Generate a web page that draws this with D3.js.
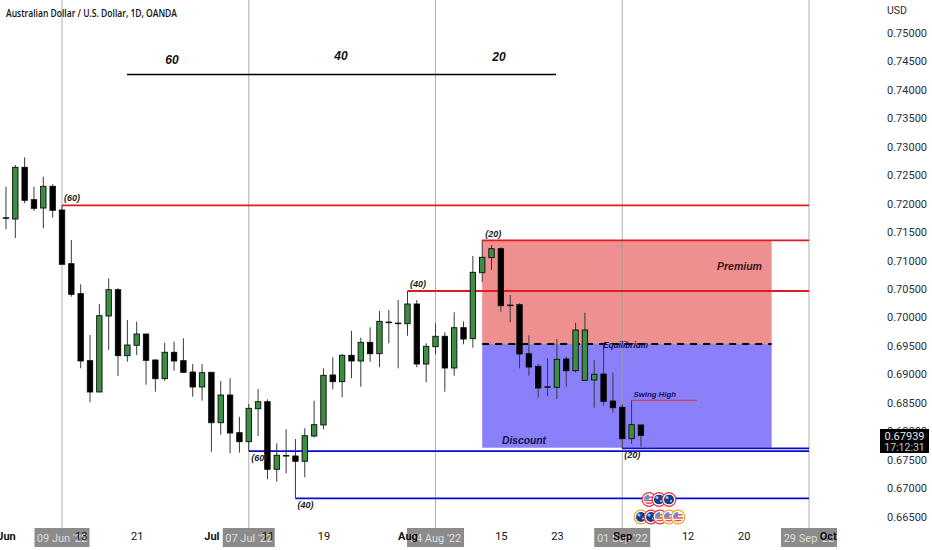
<!DOCTYPE html>
<html>
<head>
  <meta charset="utf-8">
  <title>AUD/USD 1D</title>
  <script src="https://d3js.org/d3.v7.min.js"></script>
  <style>
    html, body { margin: 0; background: #fff; overflow: hidden; }
    svg { display: block; }
    .axis text { font-family: Roboto, sans-serif; font-size: 11px; fill: #2a2e39; }
    .axis path, .axis line { display: none; }
    .note { font-family: "Liberation Sans", Arial, sans-serif; font-weight: bold; font-style: italic; }
  </style>
</head>
<body>
  <svg width="932" height="550"></svg>
  <script>
    // candles: index 0 is 09 Jun '22, one step per trading day
    const firstIndex = -6;
    const opens = [.71748,.7173,.72639,.7207,.71923,.72305,.71888,.70944,.70417,.69239,.68689,.70025,.70487,.69327,.6951,.69708,.69251,.68923,.69387,.69239,.6904,.68777,.69035,.68149,.68636,.67973,.67815,.68395,.68518,.6733,.67569,.67564,.67471,.67915,.68109,.68988,.6887,.69334,.69234,.69562,.69362,.69914,.69896,.69889,.70236,.69181,.69485,.69668,.69111,.69819,.69626,.70786,.7105,.71208,.70213,.70223,.69362,.6914,.68777,.68771,.69269,.69063,.68894,.689,.69005,.6853,.6842,.67868,.68109];
    const closes = [.71752,.72639,.72059,.71918,.72305,.71883,.70934,.70406,.69234,.68689,.7003,.70487,.69327,.69515,.69708,.69246,.68923,.69387,.69234,.69035,.68777,.69028,.68149,.68636,.67968,.67815,.68402,.68518,.6733,.67576,.67573,.67471,.6792,.68114,.68982,.6887,.69334,.69234,.69562,.69362,.69931,.69918,.699,.70236,.69181,.69492,.69668,.69111,.69819,.6962,.70793,.71057,.71208,.70206,.70217,.69357,.69128,.68759,.68781,.69264,.69063,.69779,.69779,.6900,.68525,.68413,.67868,.68114,.67927];
    const highs = [.72298,.72679,.72815,.72298,.72474,.7234,.7197,.71361,.70582,.69691,.70236,.70687,.70512,.69954,.69925,.69708,.69264,.69555,.69573,.69633,.69181,.69181,.69035,.68882,.6893,.68254,.68478,.68741,.6856,.67787,.68033,.67862,.68051,.68536,.69105,.69299,.69357,.69766,.69643,.69826,.70113,.7013,.70306,.70464,.70306,.69545,.69896,.69738,.7009,.69928,.7108,.71355,.71273,.71232,.70394,.70248,.69685,.69181,.69281,.6962,.69309,.69907,.70083,.69251,.69532,.69028,.68472,.68543,.68109];
    const lows = [.71549,.71396,.72006,.71871,.71567,.71753,.70934,.70364,.69105,.68508,.68689,.69427,.6897,.69221,.69339,.68817,.68694,.68887,.69063,.69035,.68606,.68536,.67639,.67938,.67611,.67622,.67651,.67915,.67154,.67112,.6726,.6682,.67189,.67892,.68033,.68736,.68596,.6893,.68782,.69221,.69123,.69545,.69105,.69678,.69123,.68859,.69351,.68694,.68975,.69527,.69467,.70617,.70833,.701,.69914,.69105,.68975,.68589,.68618,.68566,.68782,.69028,.68887,.68413,.68455,.68332,.67699,.67775,.67727];

    const priceTicks = [.665,.67,.675,.68,.685,.69,.695,.7,.705,.71,.715,.72,.725,.73,.735,.74,.745,.75];
    const gridIndexes = [0, 20, 40, 60, 80];
    const crosshairLabels = ["09 Jun '22", "07 Jul '22", "04 Aug '22", "01 Sep '22", "29 Sep '22"];
    const timeTickIndexes = [-6, 2, 8, 16, 22, 28, 37, 47, 53, 60, 67, 73, 82];
    const timeTickLabels = ["Jun", "13", "21", "Jul", "11", "19", "Aug", "15", "23", "Sep", "12", "20", "Oct"];
    const boldTimeTicks = ["Jun", "Jul", "Aug", "Sep", "Oct"];

    // horizontal levels: [start index, price]
    const redLevels = [[0, .7197], [45, .71355], [37, .70464]];
    const blueLevels = [[20, .67651], [25, .6682], [60, .67699]];
    const swingLabels = [
      ["(60)", 0, .7197, 2, -4], ["(20)", 45, .71355, 3, -3.6], ["(40)", 37, .70464, 2.5, -3.7],
      ["(60)", 20, .67651, 2.5, 10], ["(40)", 25, .6682, 2, 9.7], ["(20)", 60, .67699, 2, 9.7]
    ];
    const zoneStart = 45, zoneEnd = 76;
    const zoneTop = .71355, zoneMid = .69532, zoneBottom = .67709;
    const swingHigh = [61, 68, .68543];
    const countLabels = [["60", 172, 64], ["40", 341, 60], ["20", 499, 61]];
    const lastPrice = "0.67939", countdown = "17:12:31";
    const flagsTop = [["us", 649], ["au", 659], ["au", 669]];
    const flagsBottom = [["au", 641, "o"], ["au", 651, "r"], ["us", 660, "r"], ["us", 669, "o"], ["us", 678, "o"]];

    const x = d3.scaleLinear().domain([0, 80]).range([62, 809]);
    const y = d3.scaleLinear().domain([.665, .75]).range([516.5, 33]);
    const svg = d3.select("svg");

    const plotRight = 809;
    const zoneX = x(zoneStart), zoneW = x(zoneEnd) - x(zoneStart);

    // zones
    svg.append("rect").attr("x", zoneX).attr("y", y(zoneTop)).attr("width", zoneW)
      .attr("height", y(zoneMid) - y(zoneTop)).attr("fill", "#ef9090");
    svg.append("rect").attr("x", zoneX).attr("y", y(zoneMid)).attr("width", zoneW)
      .attr("height", y(zoneBottom) - y(zoneMid)).attr("fill", "#8a80fa");

    // vertical time lines
    svg.append("g").selectAll("line").data(gridIndexes).enter().append("line")
      .attr("x1", d => x(d)).attr("x2", d => x(d))
      .attr("y1", 0).attr("y2", 528)
      .attr("stroke", "#9e9e9e").attr("stroke-opacity", 0.8).attr("stroke-width", 1);

    // count line on top
    svg.append("line").attr("x1", 127).attr("x2", 556).attr("y1", 74.5).attr("y2", 74.5)
      .attr("stroke", "#000").attr("stroke-width", 1.5);
    svg.append("g").selectAll("text").data(countLabels).enter().append("text")
      .attr("class", "note").attr("x", d => d[1]).attr("y", d => d[2])
      .attr("text-anchor", "middle").attr("font-size", 12).attr("fill", "#111").text(d => d[0]);

    // levels
    svg.append("g").selectAll("line").data(redLevels).enter().append("line")
      .attr("x1", d => x(d[0])).attr("x2", plotRight)
      .attr("y1", d => y(d[1])).attr("y2", d => y(d[1]))
      .attr("stroke", "#e01b24").attr("stroke-width", 1.8);
    svg.append("g").selectAll("line").data(blueLevels).enter().append("line")
      .attr("x1", d => x(d[0])).attr("x2", plotRight)
      .attr("y1", d => y(d[1])).attr("y2", d => y(d[1]))
      .attr("stroke", "#0a0ad0").attr("stroke-width", 1.8);

    // equilibrium
    svg.append("line").attr("x1", zoneX).attr("x2", zoneX + zoneW)
      .attr("y1", y(zoneMid)).attr("y2", y(zoneMid))
      .attr("stroke", "#000").attr("stroke-width", 2).attr("stroke-dasharray", "7,6");

    // swing high
    svg.append("line").attr("x1", x(swingHigh[0])).attr("x2", x(swingHigh[1]))
      .attr("y1", y(swingHigh[2])).attr("y2", y(swingHigh[2]))
      .attr("stroke", "#d8303a").attr("stroke-width", 1);

    // candles
    const candles = opens.map((o, i) => ({ i: i + firstIndex, o, c: closes[i], h: highs[i], l: lows[i] }));
    const candle = svg.append("g").selectAll("g").data(candles).enter().append("g");
    candle.append("line")
      .attr("x1", d => x(d.i)).attr("x2", d => x(d.i))
      .attr("y1", d => y(d.h)).attr("y2", d => y(d.l))
      .attr("stroke", "#3a3a3a").attr("stroke-width", 1);
    candle.append("rect")
      .attr("x", d => x(d.i) - 2.7).attr("width", 5.4)
      .attr("y", d => y(Math.max(d.o, d.c)))
      .attr("height", d => Math.max(0.6, Math.abs(y(d.o) - y(d.c))))
      .attr("fill", d => d.c > d.o ? "#3c8f42" : "#000")
      .attr("stroke", "#0b0b0b").attr("stroke-width", 0.9);

    // swing labels
    svg.append("g").selectAll("text").data(swingLabels).enter().append("text")
      .attr("class", "note").attr("font-size", 9).attr("fill", "#222")
      .attr("x", d => x(d[1]) + d[3]).attr("y", d => y(d[2]) + d[4]).text(d => d[0]);

    // zone notes
    const note = (t, px, py, size, col) => svg.append("text").attr("class", "note")
      .attr("x", px).attr("y", py).attr("font-size", size).attr("fill", col).text(t);
    note("Premium", 717, 270, 10.5, "#3d1518");
    note("Discount", 502, 443.5, 10.3, "#10104a");
    note("Equilibrium", 603, 348, 8.2, "#10104a");
    note("Swing High", 633.5, 397, 7.8, "#14145a");

    // calendar event bubbles
    const defs = svg.append("defs");
    function flag(kind, cx, cy, ring) {
      const id = "c" + cx + "_" + Math.round(cy);
      defs.append("clipPath").attr("id", id).append("circle").attr("cx", cx).attr("cy", cy).attr("r", 5);
      const g = svg.append("g");
      g.append("circle").attr("cx", cx).attr("cy", cy).attr("r", 6.8).attr("fill", "#fff")
        .attr("stroke", ring === "o" ? "#f5a623" : "#e8313c").attr("stroke-width", 1.2);
      const inner = g.append("g").attr("clip-path", `url(#${id})`);
      if (kind === "us") {
        inner.append("rect").attr("x", cx - 5).attr("y", cy - 5).attr("width", 10).attr("height", 10).attr("fill", "#f3f3f3");
        [-3, 0.2, 3].forEach(d => inner.append("rect").attr("x", cx - 5).attr("y", cy + d)
          .attr("width", 10).attr("height", 1.5).attr("fill", "#e8505a"));
        inner.append("rect").attr("x", cx - 5).attr("y", cy - 5).attr("width", 5).attr("height", 5).attr("fill", "#5a8fd8");
      } else {
        inner.append("rect").attr("x", cx - 5).attr("y", cy - 5).attr("width", 10).attr("height", 10).attr("fill", "#12408f");
        inner.append("circle").attr("cx", cx - 2).attr("cy", cy - 2).attr("r", 1.6).attr("fill", "#9db8e6");
        inner.append("circle").attr("cx", cx + 2).attr("cy", cy + 1.5).attr("r", 1).attr("fill", "#cfdcf5");
      }
    }
    flagsTop.forEach(d => flag(d[0], d[1], 499.5));
    flagsBottom.forEach(d => flag(d[0], d[1], 517, d[2]));

    // crosshair boxes on the time scale
    const boxW = [55, 52, 57, 56, 56];
    const box = svg.append("g").selectAll("g").data(gridIndexes).enter().append("g");
    box.append("rect").attr("x", (d, i) => x(d) - boxW[i] / 2).attr("y", 528)
      .attr("width", (d, i) => boxW[i]).attr("height", 19).attr("fill", "#8b8b8b");
    box.append("text").attr("x", d => x(d)).attr("y", 542).attr("text-anchor", "middle")
      .attr("font-family", "Roboto, sans-serif").attr("font-size", 11).attr("fill", "#dedede")
      .text((d, i) => crosshairLabels[i]);

    // time axis
    const timeAxis = svg.append("g").attr("class", "axis").attr("transform", "translate(0,527)")
      .call(d3.axisBottom(x).tickValues(timeTickIndexes).tickSize(0).tickPadding(5)
        .tickFormat((d, i) => timeTickLabels[i]));
    timeAxis.selectAll("text")
      .style("fill", "#111")
      .style("font-weight", function () { return boldTimeTicks.includes(this.textContent) ? "bold" : "normal"; });

    // price axis
    svg.append("g").attr("class", "axis").attr("transform", "translate(887,0)")
      .call(d3.axisRight(y).tickValues(priceTicks).tickSize(0).tickPadding(0).tickFormat(d3.format(".5f")));
    svg.append("text").attr("x", 887).attr("y", 14).attr("font-family", "Roboto, sans-serif")
      .attr("font-size", 10.5).attr("fill", "#2a2e39").text("USD");

    // last price label
    svg.append("rect").attr("x", 880).attr("y", 429).attr("width", 49).attr("height", 24).attr("fill", "#000");
    svg.append("text").attr("x", 904.5).attr("y", 439.5).attr("text-anchor", "middle")
      .attr("font-family", "Roboto, sans-serif").attr("font-size", 11).attr("fill", "#e6e6e6").text(lastPrice);
    svg.append("text").attr("x", 904.5).attr("y", 450.5).attr("text-anchor", "middle")
      .attr("font-family", "Roboto, sans-serif").attr("font-size", 10.5).attr("fill", "#c8c8c8").text(countdown);

    // title
    svg.append("text").attr("x", 6).attr("y", 17).attr("font-family", "'Open Sans', sans-serif")
      .attr("font-size", 10.5).attr("font-weight", 600).attr("fill", "#111")
      .attr("textLength", 171).attr("lengthAdjust", "spacingAndGlyphs")
      .text("Australian Dollar / U.S. Dollar, 1D, OANDA");
  </script>
</body>
</html>
